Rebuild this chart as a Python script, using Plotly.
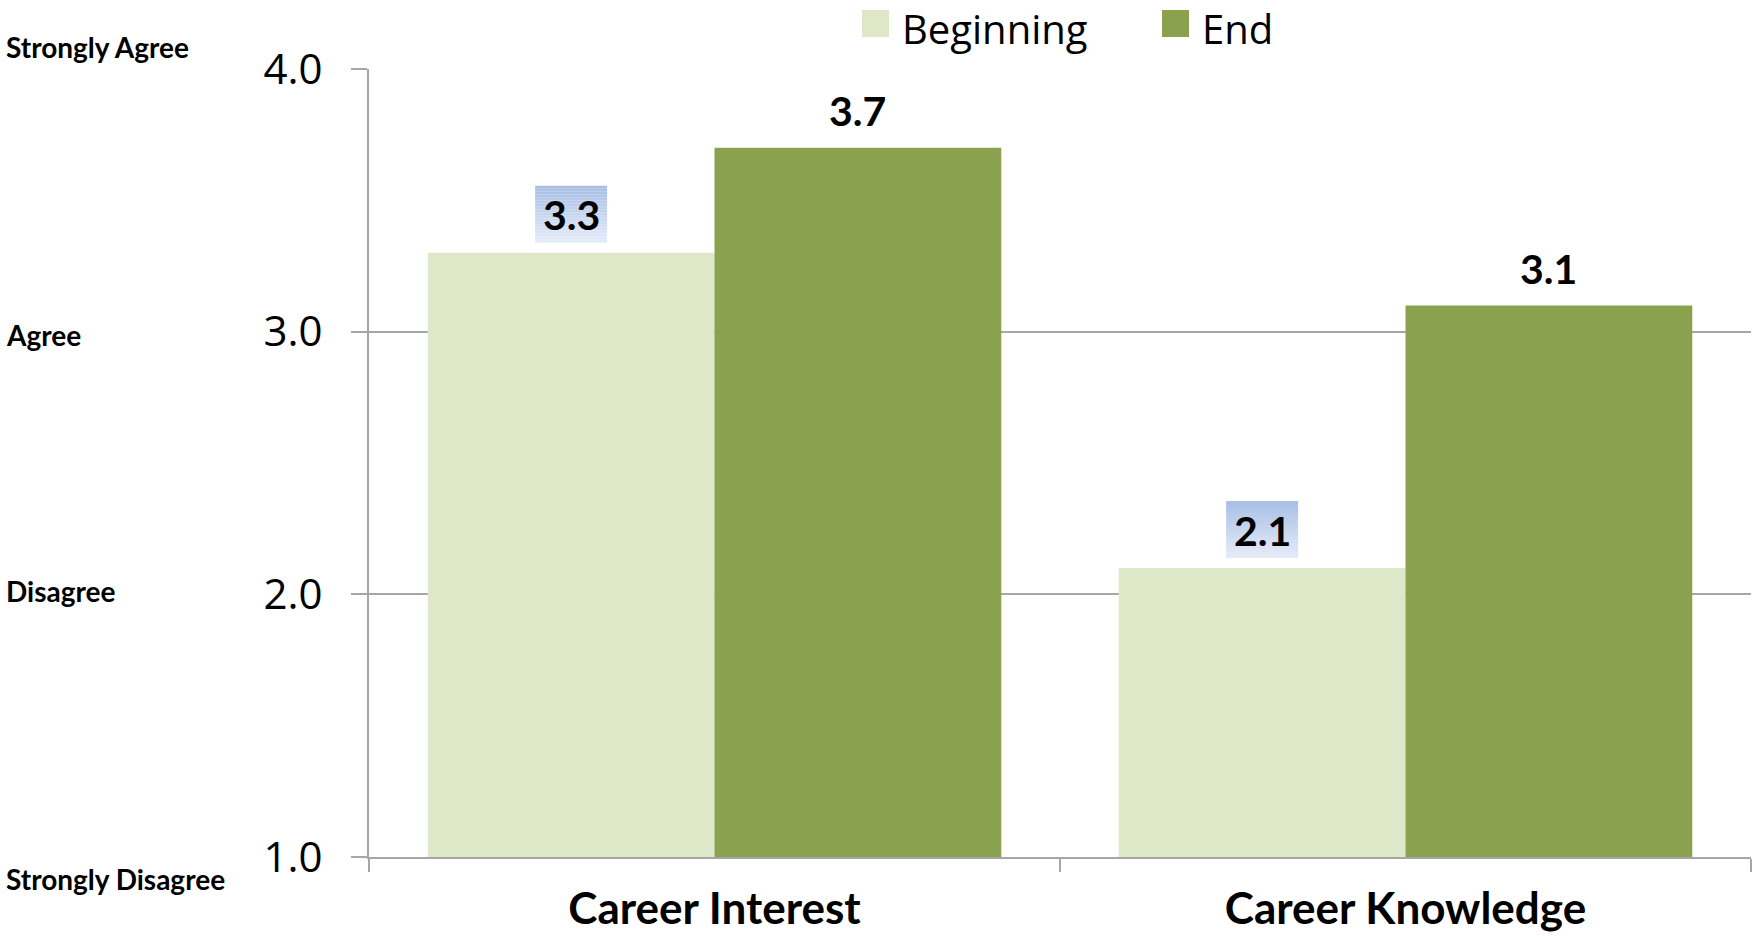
import plotly.graph_objects as go

categories = ["Career Interest", "Career Knowledge"]
beginning = [3.3, 2.1]
end = [3.7, 3.1]
series_names = ["Beginning", "End"]
y_ticks = [1.0, 2.0, 3.0, 4.0]
scale_labels = ["Strongly Disagree", "Disagree", "Agree", "Strongly Agree"]

W, H = 1753, 936
L, R, T, B = 369, 2, 69, 936 - 857
PW, PH = W - L - R, H - T - B

def px_x(px):
    return (px - L) / PW

def px_y(py):
    return (H - B - py) / PH

c_begin = "#dfe7c9"
c_end = "#8aa14d"
grid = "#a6a6a6"

fig = go.Figure()
fig.add_bar(x=categories, y=beginning, name=series_names[0], marker_color=c_begin,
            marker_line_width=0, showlegend=False)
fig.add_bar(x=categories, y=end, name=series_names[1], marker_color=c_end,
            marker_line_width=0, showlegend=False)

bargap = 0.17
half = (1 - bargap) / 4
annotations = []
shapes = []

# gradient label boxes (light at bottom, darker blue at top)
top_rgb = (0xa7, 0xbf, 0xe6)
bot_rgb = (0xe6, 0xec, 0xf8)
nb = 19
for i, v in enumerate(beginning):
    for k in range(nb):
        t = (k + 0.5) / nb
        col = "rgb(%d,%d,%d)" % tuple(round(b + (tp - b) * t) for b, tp in zip(bot_rgb, top_rgb))
        shapes.append(dict(type="rect", xref="x", yref="y",
                           xsizemode="pixel", ysizemode="pixel",
                           xanchor=i - half, yanchor=v,
                           x0=-36, x1=36, y0=10 + 3 * k, y1=10 + 3 * (k + 1),
                           fillcolor=col, line_width=0, layer="above"))
    annotations.append(dict(x=i - half, y=v, xref="x", yref="y", text=f"{v:.1f}",
                            showarrow=False, yshift=38, yanchor="middle",
                            font=dict(family="Lato", size=41, color="black", weight="bold")))
for i, v in enumerate(end):
    annotations.append(dict(x=i + half, y=v, xref="x", yref="y", text=f"{v:.1f}",
                            showarrow=False, yshift=37, yanchor="middle",
                            font=dict(family="Lato", size=41, color="black", weight="bold")))

label_y = [879, 591, 335, 47]
for lab, py in zip(scale_labels, label_y):
    annotations.append(dict(x=px_x(4), y=px_y(py), xref="paper", yref="paper", text=lab,
                            showarrow=False, xanchor="left", yanchor="middle",
                            font=dict(family="Lato", size=28, color="black", weight="bold")))

# custom legend
leg = [(series_names[0], c_begin, 862, 903), (series_names[1], c_end, 1162, 1203)]
for name, col, sx, tx in leg:
    shapes.append(dict(type="rect", xref="paper", yref="paper",
                       x0=px_x(sx), x1=px_x(sx + 27), y0=px_y(37), y1=px_y(10),
                       fillcolor=col, line_width=0))
    annotations.append(dict(x=px_x(tx - 3), y=px_y(28), xref="paper", yref="paper", text=name,
                            showarrow=False, xanchor="left", yanchor="middle",
                            font=dict(family="Open Sans", size=40, color="black")))

fig.update_layout(
    width=W, height=H,
    margin=dict(l=L, r=R, t=T, b=B, pad=0, autoexpand=False),
    paper_bgcolor="white", plot_bgcolor="white",
    barmode="group", bargap=bargap, bargroupgap=0,
    annotations=annotations, shapes=shapes,
    showlegend=False,
)
fig.update_xaxes(
    automargin=False,
    showline=True, linecolor=grid, linewidth=2,
    ticks="outside", tickson="boundaries", ticklen=13, tickcolor=grid, tickwidth=2,
    tickfont=dict(family="Lato", size=44, color="black", weight="bold"),
    ticklabelstandoff=12, showgrid=False,
)
fig.update_yaxes(
    automargin=False,
    range=[1, 4], tickvals=y_ticks, ticktext=[f"{t:.1f}" for t in y_ticks],
    showline=True, linecolor=grid, linewidth=2,
    ticks="outside", ticklen=16, tickcolor=grid, tickwidth=2,
    showgrid=True, gridcolor=grid, gridwidth=2, zeroline=False,
    tickfont=dict(family="Open Sans", size=42, color="black"),
    ticklabelstandoff=20,
)

fig.write_html("out.html", config={"displayModeBar": False},
               post_script="document.body.style.margin='0';")
